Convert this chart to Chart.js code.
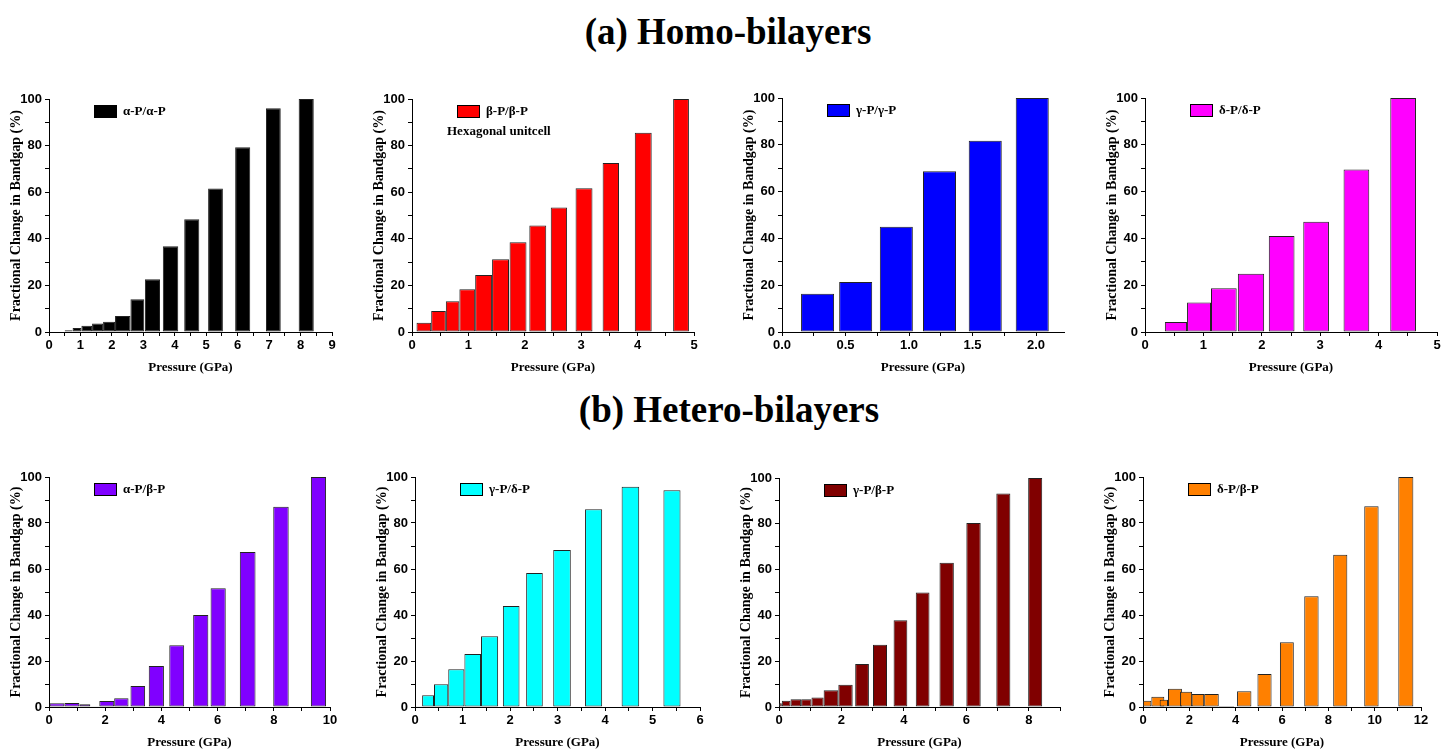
<!DOCTYPE html>
<html>
<head>
<meta charset="utf-8">
<script src="https://cdn.jsdelivr.net/npm/chart.js@4.4.1/dist/chart.umd.min.js"></script>
<style>
  html, body { margin: 0; padding: 0; background: #fff; }
  body { position: relative; width: 1442px; height: 751px; overflow: hidden; }
  .heading {
    position: absolute; transform: translateX(-50%); white-space: nowrap;
    font: bold 37px "Liberation Serif", "Times New Roman", serif; line-height: 40px; color: #000;
  }
  canvas { position: absolute; }
</style>
</head>
<body>
<div class="heading" style="left:728px; top:12px">(a) Homo-bilayers</div>
<div class="heading" style="left:729px; top:390px">(b) Hetero-bilayers</div>
<canvas id="c1"></canvas>
<canvas id="c2"></canvas>
<canvas id="c3"></canvas>
<canvas id="c4"></canvas>
<canvas id="c5"></canvas>
<canvas id="c6"></canvas>
<canvas id="c7"></canvas>
<canvas id="c8"></canvas>
<script>
// each bar spans a pressure range (GPa, from -> to) and gives the fractional change in bandgap (%)

// (a) homo-bilayers
const aaFrom   = [0.5, 0.75, 1.03, 1.37, 1.72, 2.1, 2.59, 3.05, 3.62, 4.3, 5.06, 5.92, 6.9, 7.94];
const aaTo     = [0.75, 1.03, 1.37, 1.72, 2.1, 2.59, 3.03, 3.53, 4.11, 4.78, 5.53, 6.4, 7.37, 8.42];
const aaChange = [0.7, 1.7, 2.7, 3.6, 4.4, 6.9, 14.1, 22.6, 36.8, 48.4, 61.6, 79.3, 96.0, 100];

const bbFrom   = [0.08, 0.34, 0.6, 0.84, 1.12, 1.42, 1.73, 2.08, 2.46, 2.9, 3.38, 3.95, 4.63];
const bbTo     = [0.34, 0.6, 0.84, 1.12, 1.42, 1.72, 2.03, 2.38, 2.75, 3.2, 3.67, 4.25, 4.91];
const bbChange = [4.0, 9.0, 13.2, 18.3, 24.5, 31.2, 38.5, 45.7, 53.4, 61.7, 72.5, 85.5, 100];

const ggFrom   = [0.15, 0.45, 0.77, 1.11, 1.47, 1.84];
const ggTo     = [0.41, 0.71, 1.03, 1.37, 1.73, 2.1];
const ggChange = [16.3, 21.4, 45.0, 68.7, 81.7, 100];

const ddFrom   = [0.34, 0.72, 1.13, 1.59, 2.12, 2.71, 3.4, 4.2];
const ddTo     = [0.72, 1.13, 1.57, 2.04, 2.56, 3.15, 3.84, 4.64];
const ddChange = [4.3, 12.6, 18.7, 24.9, 41.0, 47.1, 69.4, 100];

// (b) hetero-bilayers
const abFrom   = [0.02, 0.55, 1.08, 1.47, 1.79, 2.32, 2.9, 3.55, 4.28, 5.13, 5.75, 6.79, 7.98, 9.32];
const abTo     = [0.55, 1.08, 1.47, 1.79, 2.32, 2.83, 3.42, 4.09, 4.81, 5.67, 6.29, 7.35, 8.53, 9.86];
const abChange = [1.6, 1.7, 1.2, 0.3, 2.6, 3.8, 9.1, 17.8, 26.8, 40.0, 51.6, 67.4, 87.1, 100];

const gdFrom   = [0.0, 0.15, 0.4, 0.7, 1.04, 1.39, 1.85, 2.34, 2.91, 3.58, 4.35, 5.23];
const gdTo     = [0.15, 0.4, 0.7, 1.04, 1.39, 1.75, 2.2, 2.69, 3.28, 3.94, 4.72, 5.59];
const gdChange = [0.3, 5.1, 9.9, 16.4, 23.0, 30.8, 43.9, 58.3, 68.3, 86.0, 95.8, 94.2];

const gbFrom   = [0.0, 0.09, 0.37, 0.71, 1.04, 1.43, 1.9, 2.44, 3.01, 3.67, 4.38, 5.14, 6.0, 6.96, 7.98];
const gbTo     = [0.09, 0.37, 0.71, 1.04, 1.43, 1.9, 2.36, 2.88, 3.46, 4.11, 4.82, 5.6, 6.46, 7.41, 8.43];
const gbChange = [1.6, 2.7, 3.4, 3.4, 4.2, 7.3, 9.7, 18.8, 27.2, 37.9, 50.0, 63.0, 80.3, 93.2, 100];

const dbFrom   = [0.0, 0.36, 0.72, 1.08, 1.6, 2.1, 2.64, 3.27, 4.06, 4.94, 5.91, 6.96, 8.21, 9.55, 11.02];
const dbTo     = [0.36, 0.92, 1.08, 1.68, 2.12, 2.64, 3.27, 3.93, 4.68, 5.55, 6.51, 7.58, 8.82, 10.17, 11.67];
const dbChange = [2.7, 4.5, 3.1, 7.9, 6.6, 5.7, 5.7, 0.4, 6.9, 14.3, 28.2, 48.2, 66.2, 87.3, 100];

const yTitle = 'Fractional Change in Bandgap (%)';
const xTitle = 'Pressure (GPa)';

// frame = [y-axis x, plot right, plot top, plot bottom] in page pixels
const panels = [
  { id: 'c1', name: 'α-P/α-P', color: '#000000', from: aaFrom, to: aaTo, change: aaChange, xMax: 9,    minor: 0.5,  major: 1,   frame: [49, 332, 99, 332] },
  { id: 'c2', name: 'β-P/β-P', color: '#ff0000', from: bbFrom, to: bbTo, change: bbChange, xMax: 5,    minor: 0.5,  major: 1,   frame: [412, 694, 99, 332], note: 'Hexagonal unitcell' },
  { id: 'c3', name: 'γ-P/γ-P', color: '#0000ff', from: ggFrom, to: ggTo, change: ggChange, xMax: 2.22, minor: 0.25, major: 0.5, frame: [782, 1064, 98, 332], decimals: 1 },
  { id: 'c4', name: 'δ-P/δ-P', color: '#ff00ff', from: ddFrom, to: ddTo, change: ddChange, xMax: 5,    minor: 0.5,  major: 1,   frame: [1145, 1437, 98, 332] },
  { id: 'c5', name: 'α-P/β-P', color: '#8000ff', from: abFrom, to: abTo, change: abChange, xMax: 10,   minor: 1,    major: 2,   frame: [49, 330, 477, 707] },
  { id: 'c6', name: 'γ-P/δ-P', color: '#00ffff', from: gdFrom, to: gdTo, change: gdChange, xMax: 6,    minor: 0.5,  major: 1,   frame: [415, 700, 477, 707] },
  { id: 'c7', name: 'γ-P/β-P', color: '#800000', from: gbFrom, to: gbTo, change: gbChange, xMax: 9,    minor: 1,    major: 2,   frame: [779, 1060, 478, 707] },
  { id: 'c8', name: 'δ-P/β-P', color: '#ff8000', from: dbFrom, to: dbTo, change: dbChange, xMax: 12,   minor: 1,    major: 2,   frame: [1143, 1421, 477, 707] },
];

const Y_AXIS_W = 44;
const X_AXIS_H = 44;
const PAD_TOP = 14;
const PAD_RIGHT = 14;
const serif = '"Liberation Serif", "Times New Roman", serif';

Chart.defaults.font.family = '"Liberation Sans", Arial, sans-serif';
Chart.defaults.font.size = 13;
Chart.defaults.font.weight = 'bold';
Chart.defaults.color = '#000';

// bars cover their own pressure range, so stretch each one between its edges on the x scale
const rangeBars = {
  id: 'rangeBars',
  afterDatasetsUpdate(chart) {
    const xs = chart.scales.x;
    chart.data.datasets.forEach((ds, i) => {
      chart.getDatasetMeta(i).data.forEach((bar, j) => {
        const a = xs.getPixelForValue(ds.from[j]);
        const b = xs.getPixelForValue(ds.to[j]);
        bar.x = (a + b) / 2;
        bar.width = b - a;
      });
    });
  }
};

// Origin style legend sitting inside the plot
const boxLegend = {
  id: 'boxLegend',
  afterDraw(chart, args, opts) {
    const ctx = chart.ctx;
    const area = chart.chartArea;
    const ds = chart.data.datasets[0];
    const x = area.left + 45, y = area.top + 6;
    ctx.save();
    ctx.fillStyle = ds.backgroundColor;
    ctx.fillRect(x, y, 23, 13);
    ctx.strokeStyle = '#000';
    ctx.lineWidth = 1;
    ctx.strokeRect(x + 0.5, y + 0.5, 22, 12);
    ctx.fillStyle = '#000';
    ctx.font = 'bold 13px ' + serif;
    ctx.textBaseline = 'middle';
    ctx.fillText(ds.label, x + 29, y + 7);
    if (opts.note) ctx.fillText(opts.note, area.left + 35, area.top + 33);
    ctx.restore();
  }
};

const isStep = (v, s) => Math.abs(v / s - Math.round(v / s)) < 1e-6;

panels.forEach(p => {
  const [axisX, plotRight, plotTop, plotBottom] = p.frame;
  const canvas = document.getElementById(p.id);
  canvas.width = plotRight - axisX + Y_AXIS_W + PAD_RIGHT;
  canvas.height = plotBottom - plotTop + PAD_TOP + X_AXIS_H;
  canvas.style.left = (axisX - Y_AXIS_W) + 'px';
  canvas.style.top = (plotTop - PAD_TOP) + 'px';

  new Chart(canvas, {
    type: 'bar',
    data: {
      datasets: [{
        label: p.name,
        data: p.change.map((v, i) => ({ x: (p.from[i] + p.to[i]) / 2, y: v })),
        from: p.from,
        to: p.to,
        backgroundColor: p.color,
        borderColor: '#222',
        borderWidth: 1,
        borderSkipped: false
      }]
    },
    options: {
      responsive: false,
      animation: false,
      events: [],
      layout: { padding: { top: PAD_TOP, right: PAD_RIGHT, left: 0, bottom: 0 } },
      plugins: {
        legend: { display: false },
        tooltip: { enabled: false },
        boxLegend: { note: p.note }
      },
      scales: {
        x: {
          type: 'linear',
          min: 0,
          max: p.xMax,
          offset: false,
          grid: { display: true, drawOnChartArea: false, offset: false, tickLength: 4, color: '#000' },
          border: { display: true, color: '#000', width: 1 },
          ticks: {
            stepSize: p.minor,
            includeBounds: false,
            autoSkip: false,
            maxRotation: 0,
            padding: 2,
            callback: v => isStep(v, p.major) ? (p.decimals ? v.toFixed(p.decimals) : String(v)) : ''
          },
          title: { display: true, text: xTitle, font: { family: serif, size: 13, weight: 'bold' }, padding: { top: 0, bottom: 1 } },
          afterFit: s => { s.height = X_AXIS_H; }
        },
        y: {
          min: 0,
          max: 100,
          grid: { display: true, drawOnChartArea: false, tickLength: 4, color: '#000' },
          border: { display: true, color: '#000', width: 1 },
          ticks: {
            stepSize: 10,
            padding: 3,
            callback: v => isStep(v, 20) ? String(v) : ''
          },
          title: { display: true, text: yTitle, font: { family: serif, size: 14, weight: 'bold' }, padding: { top: 3, bottom: 0 } },
          afterFit: s => { s.width = Y_AXIS_W; }
        }
      }
    },
    plugins: [rangeBars, boxLegend]
  });
});
</script>
</body>
</html>
